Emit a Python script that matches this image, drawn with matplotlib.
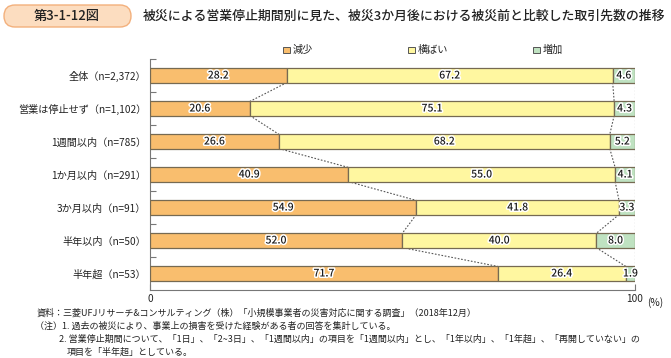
import matplotlib
matplotlib.use("Agg")
import matplotlib.pyplot as plt
import matplotlib.patheffects as pe
from matplotlib.patches import FancyBboxPatch, Rectangle
from matplotlib.transforms import IdentityTransform
import numpy as np

plt.rcParams['font.family'] = ['Noto Sans CJK JP', 'DejaVu Sans']

categories = ["全体（n=2,372）", "営業は停止せず（n=1,102）", "1週間以内（n=785）",
              "1か月以内（n=291）", "3か月以内（n=91）", "半年以内（n=50）", "半年超（n=53）"]
series_names = ["減少", "横ばい", "増加"]
decrease = [28.2, 20.6, 26.6, 40.9, 54.9, 52.0, 71.7]
flat = [67.2, 75.1, 68.2, 55.0, 41.8, 40.0, 26.4]
increase = [4.6, 4.3, 5.2, 4.1, 3.3, 8.0, 1.9]
colors = ["#F9BE6E", "#FFF7A0", "#BFE2C1"]

W, H = 671, 358
fig = plt.figure(figsize=(W / 100, H / 100), dpi=100)

def fx(px):
    return px / W

def fy(py):
    return 1 - py / H

ax = fig.add_axes([fx(150), fy(290), (635 - 150) / W, (290 - 59) / H])

y = np.arange(len(categories))
h = 0.43
edge = "#766a52"
series = [decrease, flat, increase]
lefts = np.zeros(len(categories))
bounds = []
for vals, c in zip(series, colors):
    vals = np.array(vals)
    ax.barh(y, vals, left=lefts, height=h, color=c, edgecolor=edge, linewidth=0.9, zorder=3)
    for yi, l, v in zip(y, lefts, vals):
        ax.text(l + v / 2, yi, f"{v:.1f}", ha="center", va="center", fontsize=7.5,
                color="#1a1a1a", zorder=5, fontweight="medium",
                path_effects=[pe.withStroke(linewidth=2.2, foreground="white")])
    lefts = lefts + vals
    bounds.append(lefts.copy())

# dotted connectors between consecutive bars
for b in bounds:
    for i in range(len(categories) - 1):
        ax.plot([b[i], b[i + 1]], [y[i] + h / 2, y[i + 1] - h / 2], linestyle=(0, (1.5, 1.5)),
                color="#555555", linewidth=0.8, zorder=2)

ax.set_xlim(0, 100)
ax.set_ylim(len(categories) - 0.5, -0.5)
ax.set_yticks(y)
ax.set_yticklabels(categories, fontsize=7.3, color="#222222")
ax.tick_params(axis="y", which="major", length=0, pad=3)
ax.set_yticks(np.arange(-0.5, len(categories) - 1, 1.0), minor=True)
ax.tick_params(axis="y", which="minor", direction="in", length=4, color="#777777", width=0.8)
ax.set_xticks([0, 100])
ax.set_xticklabels(["0", "100"], fontsize=7.3, color="#222222")
ax.tick_params(axis="x", direction="in", length=4, color="#777777", width=0.8, pad=3)
ax.text(102.6, -0.03, "(%)", transform=ax.get_xaxis_transform(), fontsize=7.3, color="#222222",
        ha="left", va="top")
for s in ["top", "right"]:
    ax.spines[s].set_visible(False)
for s in ["left", "bottom"]:
    ax.spines[s].set_color("#777777")
    ax.spines[s].set_linewidth(0.8)

# Legend
leg_x = [283, 408, 533]
for lx, name, c in zip(leg_x, series_names, colors):
    fig.patches.append(Rectangle((lx, H - 53), 6.5, 6.5, transform=IdentityTransform(),
                                 facecolor=c, edgecolor="#555555", linewidth=0.7))
    fig.text(fx(lx + 10), fy(49.5), name, fontsize=7.3, color="#222222", ha="left", va="center")

# Title
fig.patches.append(FancyBboxPatch((4, H - 27), 127, 22, boxstyle="round,pad=0,rounding_size=11",
                                  transform=IdentityTransform(), facecolor="#FCDDC0",
                                  edgecolor="#F3B07C", linewidth=1.0))
fig.text(fx(67), fy(16), "第3-1-12図", fontsize=9.5, color="#222222", ha="center", va="center",
         fontweight="medium")
fig.text(fx(143), fy(16), "被災による営業停止期間別に見た、被災3か月後における被災前と比較した取引先数の推移",
         fontsize=9.3, color="#222222", ha="left", va="center", fontweight="medium")

# Notes
fs = 6.5
fig.text(fx(37), fy(313), "資料：三菱UFJリサーチ&コンサルティング（株）「小規模事業者の災害対応に関する調査」（2018年12月）",
         fontsize=fs, color="#222222", ha="left", va="center")
fig.text(fx(35), fy(326), "（注）1. 過去の被災により、事業上の損害を受けた経験がある者の回答を集計している。",
         fontsize=fs, color="#222222", ha="left", va="center")
fig.text(fx(59), fy(339), "2. 営業停止期間について、「1日」、「2~3日」、「1週間以内」の項目を「1週間以内」とし、「1年以内」、「1年超」、「再開していない」の",
         fontsize=fs, color="#222222", ha="left", va="center")
fig.text(fx(67), fy(352), "項目を「半年超」としている。",
         fontsize=fs, color="#222222", ha="left", va="center")

fig.savefig("out.png", dpi=100)
